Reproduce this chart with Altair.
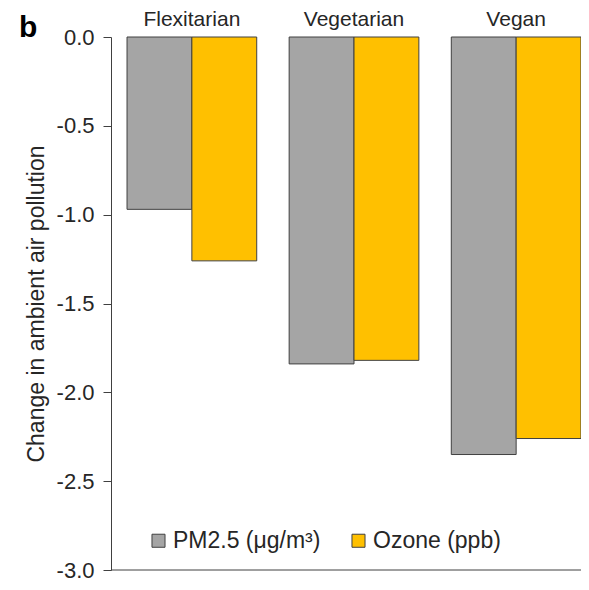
import altair as alt
import pandas as pd

diets = ["Flexitarian", "Vegetarian", "Vegan"]
pollutants = ["PM2.5 (μg/m³)", "Ozone (ppb)"]
pm25 = [-0.97, -1.84, -2.35]
ozone = [-1.26, -1.82, -2.26]

rows = []
for d, p, o in zip(diets, pm25, ozone):
    rows.append({"diet": d, "pollutant": pollutants[0], "value": p})
    rows.append({"diet": d, "pollutant": pollutants[1], "value": o})
df = pd.DataFrame(rows)

FONT = "Liberation Sans"
TXT = "#262626"

bars = alt.Chart(df).mark_bar(stroke="#404040", strokeWidth=1).encode(
    x=alt.X("diet:N", sort=diets, title=None,
            scale=alt.Scale(paddingInner=0.2, paddingOuter=0.0494, align=1),
            axis=alt.Axis(orient="top", ticks=False, domain=False, labelAngle=0,
                          labelPadding=8, labelFontSize=21, labelFont=FONT, labelColor=TXT)),
    xOffset=alt.XOffset("pollutant:N", sort=pollutants),
    y=alt.Y("value:Q", title="Change in ambient air pollution",
            scale=alt.Scale(domain=[-3, 0], nice=False, zero=False),
            axis=alt.Axis(values=[0, -0.5, -1, -1.5, -2, -2.5, -3], format=".1f",
                          labelExpr="replace(datum.label, '\u2212', '-')",
                          grid=False, domainColor="#404040", tickColor="#404040",
                          tickSize=8, labelPadding=9, labelFontSize=22, labelFont=FONT,
                          labelColor=TXT, titleFontSize=23, titleFont=FONT,
                          titleFontWeight="normal", titleColor=TXT, titlePadding=8)),
    color=alt.Color("pollutant:N", sort=pollutants,
                    scale=alt.Scale(domain=pollutants, range=["#A5A5A5", "#FFC000"]),
                    legend=alt.Legend(orient="none", legendX=36, legendY=492,
                                      direction="horizontal", title=None,
                                      symbolType="square", symbolSize=170,
                                      symbolStrokeColor="#404040", symbolStrokeWidth=1,
                                      symbolOpacity=1,
                                      labelFontSize=23, labelFont=FONT, labelColor=TXT,
                                      columnPadding=26, labelOffset=3)),
)

base_line = alt.Chart(pd.DataFrame({"y": [-3]})).mark_rule(color="#404040", strokeWidth=1).encode(
    y=alt.Y("y:Q")
)

label_b = alt.Chart(pd.DataFrame({"t": ["b"]})).mark_text(
    fontSize=30, fontWeight="bold", font=FONT, color="black", align="left", baseline="middle"
).encode(text="t:N", x=alt.value(-92), y=alt.value(-9))

chart = alt.layer(bars, base_line, label_b).properties(
    width=470, height=533,
    autosize=alt.AutoSizeParams(type="none"),
    padding={"left": 103, "top": 29, "right": 0, "bottom": 12},
).configure_view(stroke=None)

chart.save("out.html", embed_options={"renderer": "svg", "actions": False})
